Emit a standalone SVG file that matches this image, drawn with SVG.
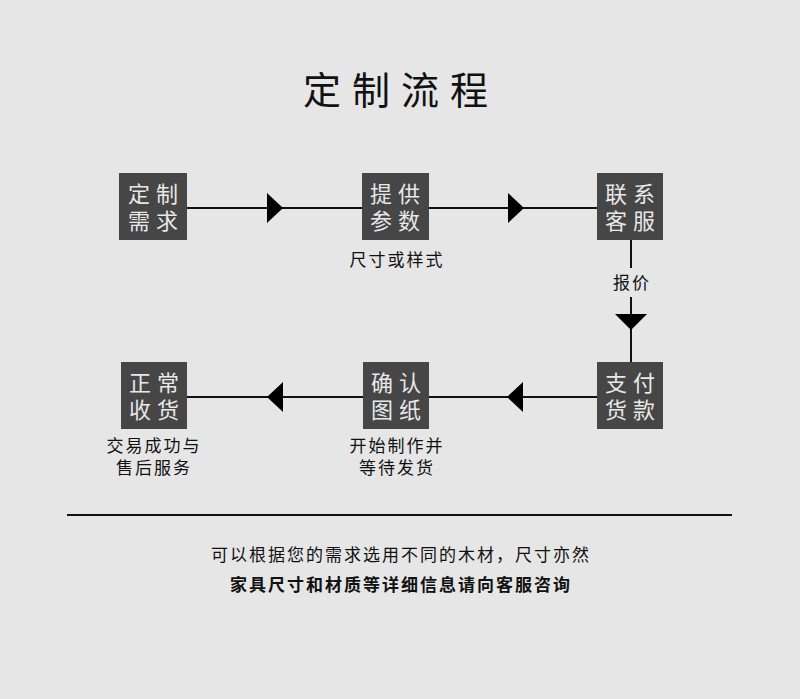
<svg xmlns="http://www.w3.org/2000/svg" width="800" height="699" viewBox="0 0 800 699">
<style>
.bg{fill:#e6e6e6}
.box{fill:#464646}
.bt{font-family:"Noto Sans CJK SC",sans-serif;font-size:22px;fill:#e8e8e8;text-anchor:middle;letter-spacing:6px}
.lbl{font-family:"Noto Sans CJK SC",sans-serif;font-size:17px;fill:#111;text-anchor:middle;letter-spacing:2px}
.ln{stroke:#111;stroke-width:2;fill:none}
.ar{fill:#000}
</style>
<rect class="bg" x="0" y="0" width="800" height="699"/>
<text x="401" y="104" font-family="Noto Sans CJK SC,sans-serif" font-size="38" fill="#111" text-anchor="middle" letter-spacing="11">定制流程</text>
<g id="connectors">
<line class="ln" x1="187" y1="208" x2="362" y2="208"/>
<polygon class="ar" points="267,193 283,208 267,223"/>
<line class="ln" x1="429" y1="208" x2="597" y2="208"/>
<polygon class="ar" points="508,193 524,208 508,223"/>
<line class="ln" x1="631" y1="240" x2="631" y2="268" stroke="#333"/>
<line class="ln" x1="631" y1="297" x2="631" y2="362" stroke="#333"/>
<polygon class="ar" points="615,314 647,314 631,330"/>
<text class="lbl" x="632" y="289">报价</text>
<line class="ln" x1="429" y1="397" x2="597" y2="397"/>
<polygon class="ar" points="523,382 507,397 523,412"/>
<line class="ln" x1="187" y1="397" x2="363" y2="397"/>
<polygon class="ar" points="283,382 267,397 283,412"/>
</g>
<g id="n1"><rect class="box" x="119" y="173" width="68" height="67"/><text class="bt"><tspan x="156" y="202">定制</tspan><tspan x="156" y="229">需求</tspan></text></g>
<g id="n2"><rect class="box" x="362" y="173" width="67" height="67"/><text class="bt"><tspan x="398" y="202">提供</tspan><tspan x="398" y="229">参数</tspan></text><text class="lbl" x="397" y="266">尺寸或样式</text></g>
<g id="n3"><rect class="box" x="597" y="173" width="66" height="67"/><text class="bt"><tspan x="633" y="202">联系</tspan><tspan x="633" y="229">客服</tspan></text></g>
<g id="n4"><rect class="box" x="597" y="362" width="66" height="67"/><text class="bt"><tspan x="633" y="391">支付</tspan><tspan x="633" y="418">货款</tspan></text></g>
<g id="n5"><rect class="box" x="363" y="362" width="66" height="67"/><text class="bt"><tspan x="399" y="391">确认</tspan><tspan x="399" y="418">图纸</tspan></text><text class="lbl"><tspan x="397" y="452">开始制作并</tspan><tspan x="397" y="474">等待发货</tspan></text></g>
<g id="n6"><rect class="box" x="121" y="362" width="66" height="67"/><text class="bt"><tspan x="157" y="391">正常</tspan><tspan x="157" y="418">收货</tspan></text><text class="lbl"><tspan x="154" y="452">交易成功与</tspan><tspan x="154" y="474">售后服务</tspan></text></g>
<line x1="67" y1="515" x2="732" y2="515" stroke="#111" stroke-width="2"/>
<text class="lbl" x="401" y="561" font-size="16" letter-spacing="2.7">可以根据您的需求选用不同的木材，尺寸亦然</text>
<text class="lbl" x="401" y="591" font-weight="bold" font-size="17" letter-spacing="2">家具尺寸和材质等详细信息请向客服咨询</text>
</svg>
